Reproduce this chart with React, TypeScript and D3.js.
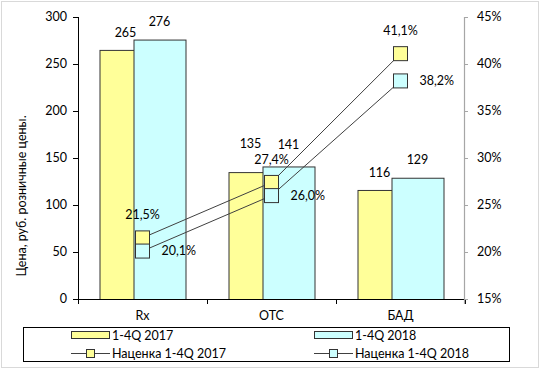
import React from "react";
import * as d3 from "d3";

const categories = ["Rx", "OTC", "БАД"];
const price2017 = [265, 135, 116];
const price2018 = [276, 141, 129];
const markup2017 = [21.5, 27.4, 41.1];
const markup2018 = [20.1, 26.0, 38.2];
const leftTicks = [0, 50, 100, 150, 200, 250, 300];
const rightTicks = [15, 20, 25, 30, 35, 40, 45];
const legendLabels = ["1-4Q 2017", "1-4Q 2018", "Наценка 1-4Q 2017", "Наценка 1-4Q 2018"];
const yTitle = "Цена, руб. розничные цены.";

const W = 540, H = 371;
const plot = { left: 78, right: 465, top: 17, bottom: 299 };
const YEL = "#ffff99";
const CYAN = "#ccffff";
const EDGE = "#333333";
const FONT = "Lato, 'Liberation Sans', sans-serif";

export default function App() {
  const x = d3.scaleBand<string>().domain(categories).range([plot.left, plot.right]);
  const yL = d3.scaleLinear().domain([0, 300]).range([plot.bottom, plot.top]);
  const yR = d3.scaleLinear().domain([15, 45]).range([plot.bottom, plot.top]);
  const bw = 52;
  const overlap = 18;
  const groupW = bw * 2 - overlap;
  const x0 = (c: string) => (x(c) as number) + x.bandwidth() / 2 - groupW / 2;
  const x1 = (c: string) => x0(c) + bw - overlap;
  const cx = (c: string) => (x(c) as number) + x.bandwidth() / 2;

  const line = d3.line<number>().x((_, i) => cx(categories[i])).y((d) => yR(d));
  const ms = 14;
  const label2017Lift = [0, 11, 0];
  const label2017Shift = [0, -4, -4];
  const label2018Lift = [0, 3, 0];

  return (
    <div style={{ position: "absolute", left: 0, top: 0 }}>
      <svg width={W} height={H} style={{ display: "block", fontFamily: FONT }}>
        <rect x={0} y={0} width={W} height={H} fill="#fff" />
        <rect x={1.5} y={1.5} width={W - 3} height={H - 5} fill="#fff" stroke="#d9d9d9" />

        {categories.map((c, i) => (
          <rect key={"a" + c} x={x0(c) + 0.5} y={yL(price2017[i]) + 0.5} width={bw} height={plot.bottom - yL(price2017[i])} fill={YEL} stroke={EDGE} strokeWidth={1} />
        ))}
        {categories.map((c, i) => (
          <rect key={"b" + c} x={x1(c) + 0.5} y={yL(price2018[i]) + 0.5} width={bw} height={plot.bottom - yL(price2018[i])} fill={CYAN} stroke={EDGE} strokeWidth={1} />
        ))}

        <line x1={plot.left + 0.5} x2={plot.left + 0.5} y1={plot.top} y2={plot.bottom + 0.5} stroke="#000" />
        {leftTicks.map((t) => (
          <g key={"lt" + t}>
            <line x1={plot.left - 5} x2={plot.left + 0.5} y1={Math.round(yL(t)) + 0.5} y2={Math.round(yL(t)) + 0.5} stroke="#000" />
            <text x={plot.left - 11} y={yL(t)} dy="0.35em" textAnchor="end" fontSize={12.5} fill="#000">{t}</text>
          </g>
        ))}
        <line x1={plot.left} x2={plot.right + 1} y1={plot.bottom + 0.5} y2={plot.bottom + 0.5} stroke="#000" />
        {[...categories.map((c) => x(c) as number), plot.right].map((v, i) => (
          <line key={"bt" + i} x1={Math.round(v) + 0.5} x2={Math.round(v) + 0.5} y1={plot.bottom} y2={plot.bottom + 5} stroke="#000" />
        ))}
        {categories.map((c) => (
          <text key={"cl" + c} x={cx(c)} y={316} dy="0.35em" textAnchor="middle" fontSize={12.5} fill="#000">{c}</text>
        ))}
        <line x1={plot.right - 0.5} x2={plot.right - 0.5} y1={plot.top} y2={plot.bottom + 5} stroke="#a6a6a6" strokeWidth={1.2} />
        {rightTicks.map((t) => (
          <g key={"rt" + t}>
            <line x1={plot.right - 1} x2={plot.right + 3} y1={Math.round(yR(t)) + 0.5} y2={Math.round(yR(t)) + 0.5} stroke="#a6a6a6" />
            <text x={plot.right + 12} y={yR(t)} dy="0.35em" textAnchor="start" fontSize={12.5} fill="#000">{t}%</text>
          </g>
        ))}
        <text transform={`translate(22,196) rotate(-90)`} textAnchor="middle" dy="0.35em" fontSize={12.5} fill="#000">{yTitle}</text>

        {categories.map((c, i) => (
          <text key={"va" + c} x={x0(c) + bw / 2 + label2017Shift[i]} y={yL(price2017[i]) - 13 - label2017Lift[i]} textAnchor="middle" fontSize={12.5} fill="#000">{price2017[i]}</text>
        ))}
        {categories.map((c, i) => (
          <text key={"vb" + c} x={x1(c) + bw / 2} y={yL(price2018[i]) - 14 - label2018Lift[i]} textAnchor="middle" fontSize={12.5} fill="#000">{price2018[i]}</text>
        ))}

        <path d={line(markup2017) as string} fill="none" stroke="#404040" strokeWidth={1} />
        <path d={line(markup2018) as string} fill="none" stroke="#404040" strokeWidth={1} />
        {categories.map((c, i) => (
          <rect key={"ma" + c} x={cx(c) - ms / 2} y={yR(markup2017[i]) - ms / 2} width={ms} height={ms} fill={YEL} stroke={EDGE} />
        ))}
        {categories.map((c, i) => (
          <rect key={"mb" + c} x={cx(c) - ms / 2} y={yR(markup2018[i]) - ms / 2} width={ms} height={ms} fill={CYAN} stroke={EDGE} />
        ))}
        {categories.map((c, i) => (
          <text key={"pa" + c} x={cx(c)} y={yR(markup2017[i]) - 23} dy="0.35em" textAnchor="middle" fontSize={12.5} fill="#000">{markup2017[i].toFixed(1).replace(".", ",")}%</text>
        ))}
        {categories.map((c, i) => (
          <text key={"pb" + c} x={cx(c) + 19} y={yR(markup2018[i])} dy="0.35em" textAnchor="start" fontSize={12.5} fill="#000">{markup2018[i].toFixed(1).replace(".", ",")}%</text>
        ))}

        <rect x={23.5} y={327.5} width={486} height={34} fill="#fff" stroke="#000" />
        {[0, 1].map((k) => {
          const lx = k === 0 ? 71 : 314;
          const fill = k === 0 ? YEL : CYAN;
          return (
            <g key={"lg" + k}>
              <rect x={lx + 0.5} y={331.5} width={38} height={7} fill={fill} stroke={EDGE} />
              <text x={lx + 41} y={336} dy="0.35em" fontSize={12.5} fill="#000">{legendLabels[k]}</text>
              <line x1={lx} x2={lx + 39} y1={353.5} y2={353.5} stroke="#404040" />
              <rect x={lx + 15.5} y={349.5} width={8} height={8} fill={fill} stroke={EDGE} />
              <text x={lx + 41} y={354} dy="0.35em" fontSize={12.5} fill="#000">{legendLabels[k + 2]}</text>
            </g>
          );
        })}
      </svg>
    </div>
  );
}
